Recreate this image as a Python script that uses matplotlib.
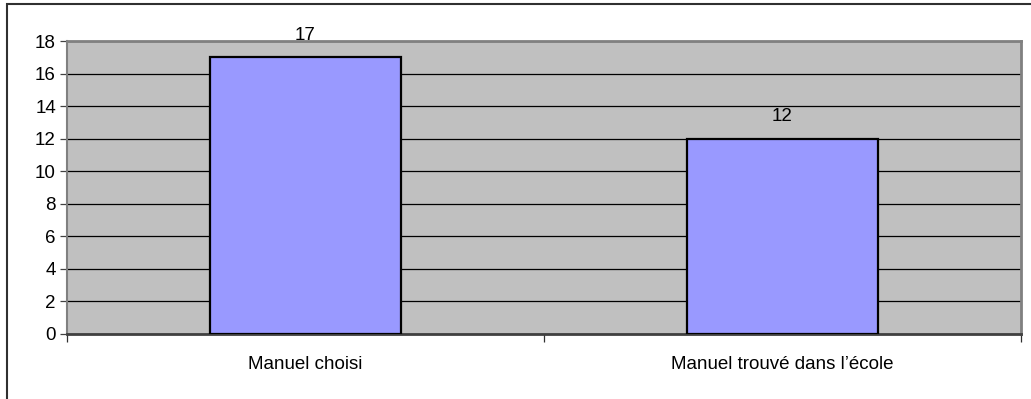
import matplotlib.pyplot as plt
from matplotlib.patches import Rectangle

categories = ["Manuel choisi", "Manuel trouvé dans l\u2019école"]
values = [17, 12]
y_ticks = [0, 2, 4, 6, 8, 10, 12, 14, 16, 18]

plt.rcParams['font.family'] = ['Liberation Sans', 'DejaVu Sans']

fig = plt.figure(figsize=(10.31, 3.99), dpi=100)
ax = fig.add_axes([67 / 1031, 1 - 334 / 399, (1021 - 67) / 1031, (334 - 41) / 399])

# outer chart border
fig.patches.append(Rectangle((7 / 1031, -0.05), 1.1, 1 - 4 / 399 + 0.05,
                             transform=fig.transFigure, fill=False,
                             edgecolor='#303030', linewidth=1.5, zorder=10))

ax.set_facecolor('#C0C0C0')
x = range(len(categories))
ax.bar(x, values, width=0.4, color='#9999FF', edgecolor='black', linewidth=1.6, zorder=3)
for i, v in enumerate(values):
    ax.annotate(str(v), (i, v), xytext=(0, 16), textcoords='offset points',
                ha='center', va='center', fontsize=13.5)

ax.set_xlim(-0.5, len(categories) - 0.5)
ax.set_ylim(0, 18)
ax.set_yticks(y_ticks)
ax.yaxis.grid(True, color='black', linewidth=0.9, zorder=1)
ax.set_axisbelow(True)
ax.tick_params(axis='y', labelsize=13.5, length=5, width=0.9, color='#404040', pad=3)

ax.set_xticks([0, 1])
ax.set_xticklabels(categories)
ax.set_xticks([-0.5, 0.5, 1.5], minor=True)
ax.tick_params(axis='x', which='major', length=0, labelsize=13.5, pad=15.5)
ax.tick_params(axis='x', which='minor', length=6, width=0.9, color='#303030', direction='out')

for side in ['top', 'right']:
    ax.spines[side].set_color('#808080')
    ax.spines[side].set_linewidth(2)
ax.spines['left'].set_color('#808080')
ax.spines['left'].set_linewidth(1.5)
ax.spines['bottom'].set_color('#404040')
ax.spines['bottom'].set_linewidth(2)

fig.savefig('out.png', dpi=100)
